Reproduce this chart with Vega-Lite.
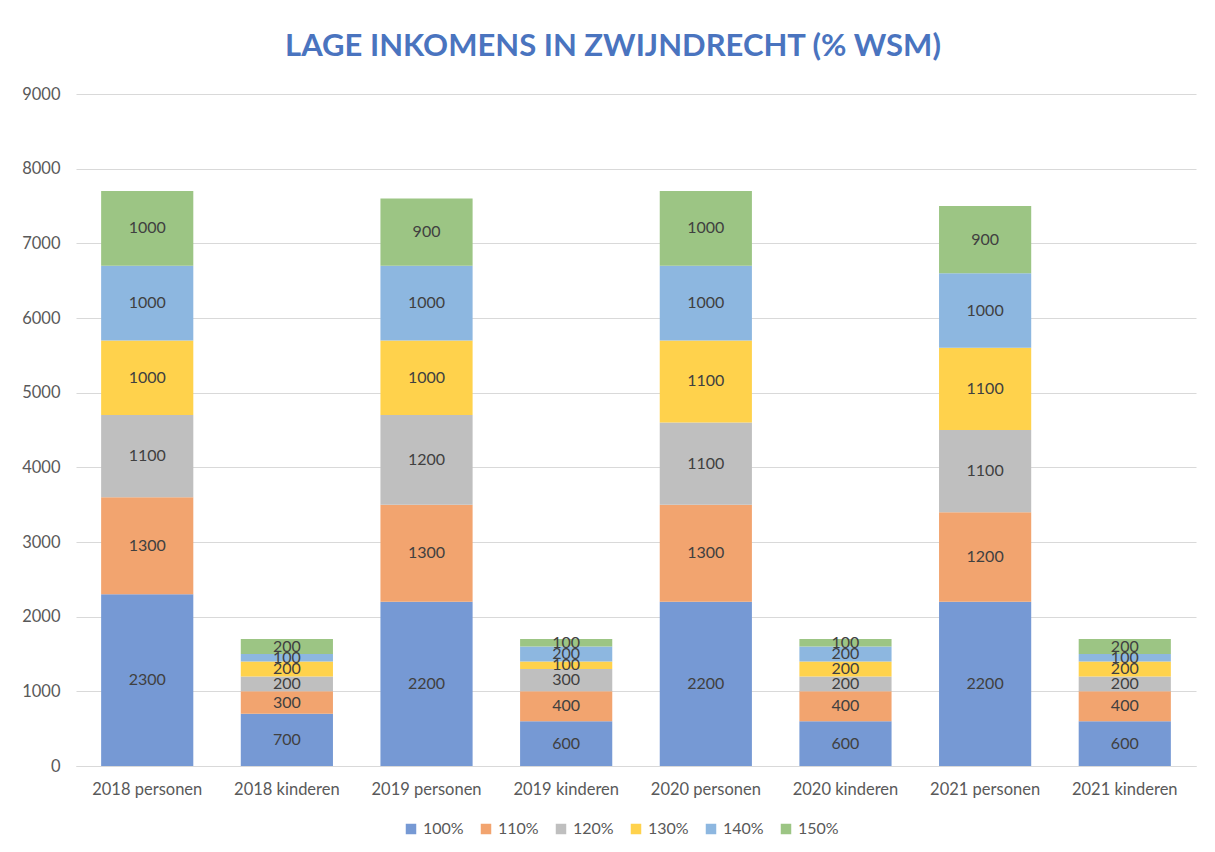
{
  "$schema": "https://vega.github.io/schema/vega-lite/v6.json",
  "width": 1120,
  "height": 672,
  "autosize": {"type": "none"},
  "padding": {"left": 76, "top": 94, "right": 19, "bottom": 86},
  "background": "white",
  "title": {
    "text": "LAGE INKOMENS IN ZWIJNDRECHT (% WSM)",
    "font": "Lato",
    "fontSize": 31,
    "fontWeight": "bold",
    "color": "#4a74bf",
    "anchor": "middle",
    "dx": -23,
    "offset": 23
  },
  "config": {
    "view": {"stroke": null},
    "font": "Lato"
  },
  "data": {
    "values": [
      {"cat": "2018 personen", "pct": "100%", "value": 2300},
      {"cat": "2018 personen", "pct": "110%", "value": 1300},
      {"cat": "2018 personen", "pct": "120%", "value": 1100},
      {"cat": "2018 personen", "pct": "130%", "value": 1000},
      {"cat": "2018 personen", "pct": "140%", "value": 1000},
      {"cat": "2018 personen", "pct": "150%", "value": 1000},
      {"cat": "2018 kinderen", "pct": "100%", "value": 700},
      {"cat": "2018 kinderen", "pct": "110%", "value": 300},
      {"cat": "2018 kinderen", "pct": "120%", "value": 200},
      {"cat": "2018 kinderen", "pct": "130%", "value": 200},
      {"cat": "2018 kinderen", "pct": "140%", "value": 100},
      {"cat": "2018 kinderen", "pct": "150%", "value": 200},
      {"cat": "2019 personen", "pct": "100%", "value": 2200},
      {"cat": "2019 personen", "pct": "110%", "value": 1300},
      {"cat": "2019 personen", "pct": "120%", "value": 1200},
      {"cat": "2019 personen", "pct": "130%", "value": 1000},
      {"cat": "2019 personen", "pct": "140%", "value": 1000},
      {"cat": "2019 personen", "pct": "150%", "value": 900},
      {"cat": "2019 kinderen", "pct": "100%", "value": 600},
      {"cat": "2019 kinderen", "pct": "110%", "value": 400},
      {"cat": "2019 kinderen", "pct": "120%", "value": 300},
      {"cat": "2019 kinderen", "pct": "130%", "value": 100},
      {"cat": "2019 kinderen", "pct": "140%", "value": 200},
      {"cat": "2019 kinderen", "pct": "150%", "value": 100},
      {"cat": "2020 personen", "pct": "100%", "value": 2200},
      {"cat": "2020 personen", "pct": "110%", "value": 1300},
      {"cat": "2020 personen", "pct": "120%", "value": 1100},
      {"cat": "2020 personen", "pct": "130%", "value": 1100},
      {"cat": "2020 personen", "pct": "140%", "value": 1000},
      {"cat": "2020 personen", "pct": "150%", "value": 1000},
      {"cat": "2020 kinderen", "pct": "100%", "value": 600},
      {"cat": "2020 kinderen", "pct": "110%", "value": 400},
      {"cat": "2020 kinderen", "pct": "120%", "value": 200},
      {"cat": "2020 kinderen", "pct": "130%", "value": 200},
      {"cat": "2020 kinderen", "pct": "140%", "value": 200},
      {"cat": "2020 kinderen", "pct": "150%", "value": 100},
      {"cat": "2021 personen", "pct": "100%", "value": 2200},
      {"cat": "2021 personen", "pct": "110%", "value": 1200},
      {"cat": "2021 personen", "pct": "120%", "value": 1100},
      {"cat": "2021 personen", "pct": "130%", "value": 1100},
      {"cat": "2021 personen", "pct": "140%", "value": 1000},
      {"cat": "2021 personen", "pct": "150%", "value": 900},
      {"cat": "2021 kinderen", "pct": "100%", "value": 600},
      {"cat": "2021 kinderen", "pct": "110%", "value": 400},
      {"cat": "2021 kinderen", "pct": "120%", "value": 200},
      {"cat": "2021 kinderen", "pct": "130%", "value": 200},
      {"cat": "2021 kinderen", "pct": "140%", "value": 100},
      {"cat": "2021 kinderen", "pct": "150%", "value": 200}
    ]
  },
  "encoding": {
    "x": {
      "field": "cat",
      "type": "nominal",
      "sort": null,
      "scale": {"paddingInner": 0.34, "paddingOuter": 0.18},
      "axis": {
        "title": null,
        "labelAngle": 0,
        "labelFont": "Lato",
        "labelFontSize": 16.5,
        "labelColor": "#595959",
        "labelPadding": 15,
        "ticks": false,
        "domainColor": "#d9d9d9",
        "domainWidth": 1
      }
    },
    "y": {
      "field": "value",
      "type": "quantitative",
      "stack": "zero",
      "scale": {"domain": [0, 9000], "nice": false},
      "axis": {
        "title": null,
        "values": [0, 1000, 2000, 3000, 4000, 5000, 6000, 7000, 8000, 9000],
        "format": "d",
        "labelFont": "Lato",
        "labelFontSize": 16.5,
        "labelColor": "#595959",
        "labelPadding": 16,
        "ticks": false,
        "domain": false,
        "gridColor": "#d9d9d9",
        "gridWidth": 1
      }
    },
    "order": {"field": "pct", "sort": "ascending"}
  },
  "layer": [
    {
      "mark": {"type": "bar"},
      "encoding": {
        "color": {
          "field": "pct",
          "type": "nominal",
          "scale": {
            "domain": ["100%", "110%", "120%", "130%", "140%", "150%"],
            "range": ["#7699d4", "#f2a46f", "#bfbfbf", "#ffd24c", "#8db7e0", "#9cc584"]
          },
          "legend": {
            "title": null,
            "orient": "none",
            "direction": "horizontal",
            "legendX": 327,
            "legendY": 727,
            "symbolType": "square",
            "symbolSize": 110,
            "symbolStrokeWidth": 0,
            "labelFont": "Lato",
            "labelFontSize": 16,
            "labelColor": "#595959",
            "labelOffset": 4,
            "columnPadding": 14
          }
        }
      }
    },
    {
      "mark": {"type": "text", "font": "Lato", "fontSize": 16, "color": "#404040", "baseline": "middle"},
      "encoding": {
        "y": {
          "field": "value",
          "type": "quantitative",
          "stack": "zero",
          "bandPosition": 0.5
        },
        "text": {"field": "value", "type": "quantitative", "format": "d"}
      }
    }
  ]
}
